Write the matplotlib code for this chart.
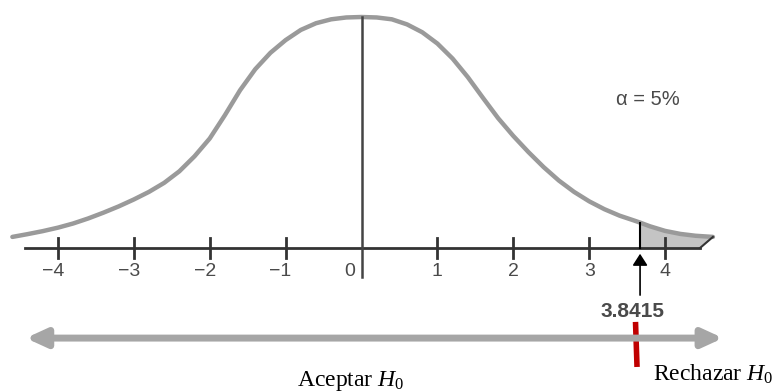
import numpy as np
import matplotlib
matplotlib.use("Agg")
from matplotlib import pyplot as plt
from matplotlib.patches import Polygon

# curve (x in z units, y relative to peak height)
curve_x = [-4.60, -4.4, -4.2, -4.0, -3.8, -3.6, -3.4, -3.2, -3.0, -2.8,
           -2.6, -2.4, -2.2, -2.0, -1.8, -1.6, -1.4, -1.2, -1.0, -0.8,
           -0.6, -0.4, -0.2, 0.0, 0.2, 0.4, 0.6, 0.8, 1.0, 1.2,
           1.4, 1.6, 1.8, 2.0, 2.2, 2.4, 2.6, 2.8, 3.0, 3.2,
           3.4, 3.6, 3.67, 3.8, 4.0, 4.2, 4.4, 4.63]
curve_y = [0.048, 0.060, 0.073, 0.088, 0.106, 0.128, 0.153, 0.180, 0.210, 0.243,
           0.282, 0.332, 0.397, 0.474, 0.575, 0.683, 0.774, 0.845, 0.900, 0.944,
           0.973, 0.990, 0.998, 1.0, 0.998, 0.990, 0.968, 0.934, 0.885, 0.820,
           0.740, 0.650, 0.562, 0.485, 0.415, 0.350, 0.292, 0.243, 0.202, 0.168,
           0.140, 0.118, 0.110, 0.094, 0.074, 0.061, 0.053, 0.048]

tick_values = [-4, -3, -2, -1, 0, 1, 2, 3, 4]
tick_labels = ["\u22124", "\u22123", "\u22122", "\u22121", "0", "1", "2", "3", "4"]
crit_pos = 3.67
crit_label = "3.8415"
alpha_label = "\u03b1 = 5%"
accept_label = "Aceptar $H_0$"
reject_label = "Rechazar $H_0$"

plt.rcParams["mathtext.fontset"] = "custom"
plt.rcParams["mathtext.it"] = "Liberation Serif:italic"
plt.rcParams["mathtext.rm"] = "Liberation Serif"

fig = plt.figure(figsize=(7.76, 3.92), dpi=100)
ax = fig.add_axes([0, 0, 1, 1])
ax.set_xlim(-4.763, 5.461)
ax.set_ylim(-0.6234, 1.0736)
ax.axis("off")

cx = np.array(curve_x)
cy = np.array(curve_y)
axis_left, axis_right = -4.43, 4.46

# shaded rejection tail
m = cx >= crit_pos
tail = list(zip(cx[m], cy[m])) + [(axis_right, 0), (crit_pos, 0)]
ax.add_patch(Polygon(tail, closed=True, facecolor="#c4c4c4", edgecolor="none", zorder=1))
ax.plot([cx[-1], axis_right], [cy[-1], 0], color="#333333", lw=1.5, zorder=3)

ax.plot(cx, cy, color="#9a9a9a", lw=3.2, solid_joinstyle="round",
        solid_capstyle="round", zorder=2)

# horizontal axis and ticks
ax.plot([axis_left, axis_right], [0, 0], color="#333333", lw=2.0, zorder=3)
for t, lab in zip(tick_values, tick_labels):
    if t != 0:
        ax.plot([t, t], [-0.043, 0.043], color="#333333", lw=2.0, zorder=3)
    if t < 0:
        ax.text(t + 0.08, -0.10, lab, ha="right", va="center", fontsize=14,
                family="Liberation Sans", color="#4a4a4a")
    elif t == 0:
        ax.text(t - 0.15, -0.10, lab, ha="center", va="center", fontsize=14,
                family="Liberation Sans", color="#4a4a4a")
    else:
        ax.text(t, -0.10, lab, ha="center", va="center", fontsize=14,
                family="Liberation Sans", color="#4a4a4a")

# centre line
ax.plot([0.0, 0.0], [-0.126, 1.0], color="#444444", lw=1.8, zorder=3)

# critical value line and arrow
ax.plot([crit_pos, crit_pos], [0, np.interp(crit_pos, cx, cy)], color="black", lw=1.5, zorder=3)
ax.annotate("", xy=(crit_pos, -0.013), xytext=(crit_pos, -0.216),
            arrowprops=dict(arrowstyle="-|>,head_length=0.7,head_width=0.45",
                            color="black", lw=1.2))
ax.text(crit_pos - 0.1, -0.277, crit_label, ha="center", va="center", fontsize=15,
        fontweight="bold", family="Liberation Sans", color="#4a4a4a")

ax.text(3.77, 0.641, alpha_label, ha="center", va="center", fontsize=14.5,
        family="Liberation Sans", color="#4a4a4a")

# accept / reject arrow
ax.annotate("", xy=(-4.46, -0.39), xytext=(4.80, -0.39),
            arrowprops=dict(arrowstyle="<|-|>,head_length=1.2,head_width=0.55",
                            color="#a6a6a6", lw=5))
ax.plot([crit_pos - 0.06, crit_pos - 0.04], [-0.32, -0.515], color="#c00000",
        lw=4, solid_capstyle="butt")

ax.text(-0.85, -0.576, accept_label, ha="left", va="center", fontsize=17,
        family="Liberation Serif", color="black")
ax.text(3.84, -0.545, reject_label, ha="left", va="center", fontsize=17,
        family="Liberation Serif", color="black")

fig.savefig("out.png", dpi=100)
